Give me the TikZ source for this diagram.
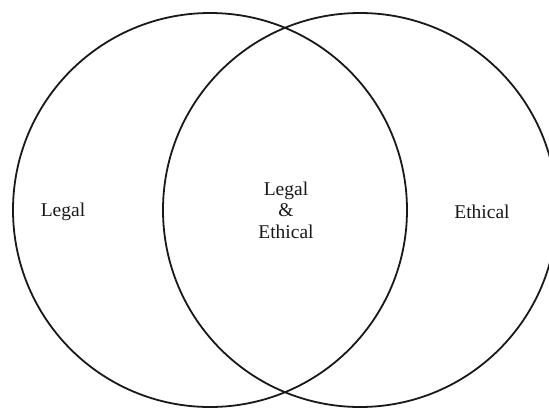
\documentclass[tikz,border=0pt]{standalone}
\usepackage{fontspec}
\setmainfont{Liberation Serif}
\begin{document}
\begin{tikzpicture}[x=1pt,y=-1pt,
  ring/.style={draw=black!90,line width=1.8pt},
  lbl/.style={font=\fontsize{19.5}{21.5}\selectfont,align=center,text=black!90}]
\useasboundingbox (0,0) rectangle (549,408);
\draw[ring] (210,210) circle[radius=197];
\draw[ring] (360,210) circle[radius=197];
\node[lbl] (legal) at (63,212) {Legal};
\node[lbl] (both) at (286,210) {Legal\\\&\\Ethical};
\node[lbl] (ethical) at (482,212) {Ethical};
\end{tikzpicture}
\end{document}
